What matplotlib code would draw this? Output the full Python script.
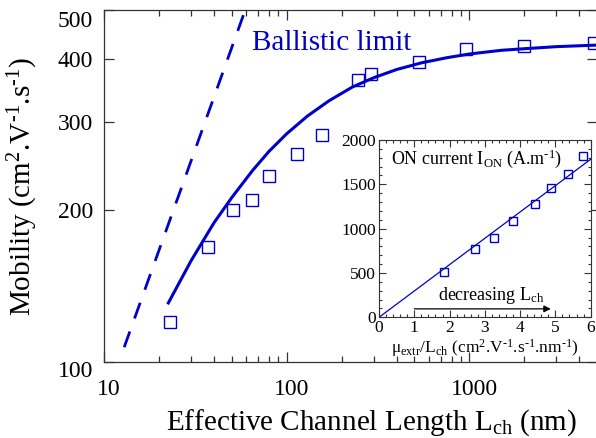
import matplotlib
matplotlib.use("Agg")
import matplotlib.pyplot as plt
import matplotlib.transforms as mtransforms
from matplotlib.ticker import FixedLocator, MultipleLocator, NullLocator, NullFormatter

plt.rcParams['font.family'] = ['Liberation Serif', 'DejaVu Serif']
plt.rcParams['mathtext.fontset'] = 'custom'
plt.rcParams['mathtext.rm'] = 'Liberation Serif'
plt.rcParams['mathtext.it'] = 'Liberation Serif:italic'

BLUE = '#0000cc'
HY = '\u2010'   # short hyphen for the exponents, like the original

# main panel: measured mobility vs channel length (squares)
L_meas = [23, 37, 51, 65, 80, 114, 156, 245, 289, 527, 964, 1994, 4800]
mu_meas = [120, 169, 200, 210, 234, 259, 282, 363, 373, 394, 418, 425, 431]

# model curve
L_model = [22.5, 30, 40, 50, 65, 80, 100, 130, 170, 230, 300, 400, 550,
           750, 1000, 1500, 2000, 3000, 5000]
mu_model = [131, 159, 189, 212, 240, 262, 284, 308, 330, 352, 367, 381, 393,
            402, 409, 416, 419, 423, 426]

# ballistic limit (straight line on log-log)
L_ball = [12.9, 59.3]
mu_ball = [107, 500]

# inset: ON current vs mu_extr / L_ch
x_ins = [1.85, 2.72, 3.26, 3.79, 4.41, 4.87, 5.36, 5.79]
ion_ins = [514, 767, 894, 1086, 1278, 1462, 1613, 1823]
fit_x = [0, 6]
fit_y = [0, 1782]

fig = plt.figure(figsize=(5.96, 4.38), dpi=100)

##############################################
# main axes
ax = fig.add_axes([0.1745, 0.1735, 0.8272, 0.8035])
ax.set_xscale('log')
ax.set_yscale('log')

ax.plot(L_ball, mu_ball, color=BLUE, lw=2, linestyle=(0, (6, 5)))
ax.plot(L_model, mu_model, color=BLUE, lw=2.2)
ax.plot(L_meas, mu_meas, 's', mfc='none', mec=BLUE, ms=8, mew=1)

ax.set_xlim(10, 5000)
ax.set_ylim(100, 500)

ax.yaxis.set_major_locator(FixedLocator([100, 200, 300, 400, 500]))
ax.yaxis.set_minor_locator(NullLocator())
ax.set_yticklabels(['100', '200', '300', '400', '500'])
ax.xaxis.set_major_locator(FixedLocator([10, 100, 1000]))
ax.set_xticklabels(['10', '100', '1000'])
ax.xaxis.set_minor_formatter(NullFormatter())

ax.tick_params(which='both', direction='in', top=True, right=True,
               labelsize=17, color='#333333')
ax.tick_params(which='major', length=7, width=0.9)
ax.tick_params(which='minor', length=4, width=0.9)
ax.tick_params(axis='x', pad=12)
ax.tick_params(axis='y', pad=8)
for sp in ax.spines.values():
    sp.set_linewidth(0.9)
    sp.set_color('#333333')

# x labels sit a bit right of their ticks, end y labels sit a bit low
for lab in ax.get_xticklabels():
    lab.set_transform(lab.get_transform() +
                      mtransforms.ScaledTranslation(5 / 100, 0, fig.dpi_scale_trans))
ylabs = ax.get_yticklabels()
ylabs[0].set_transform(ylabs[0].get_transform() +
                       mtransforms.ScaledTranslation(0, -7 / 100, fig.dpi_scale_trans))
ylabs[-1].set_transform(ylabs[-1].get_transform() +
                        mtransforms.ScaledTranslation(0, -9 / 100, fig.dpi_scale_trans))

ax.text(64.7, 416, 'Ballistic limit', color=BLUE, fontsize=21, va='baseline')

ax.set_xlabel('Effective Channel Length L$_{\\rm ch}$ (nm)', fontsize=21)
ax.xaxis.set_label_coords(0.5416, -0.13)
ax.set_ylabel('Mobility (cm$^{2}$.V$^{\\rm ' + HY + '1}$.s$^{\\rm ' + HY + '1}$)',
              fontsize=21)
ax.yaxis.set_label_coords(-0.13, 0.5)

##############################################
# inset
axin = fig.add_axes([0.636, 0.2756, 0.355, 0.4048])
axin.plot(fit_x, fit_y, color=BLUE, lw=0.9)
axin.plot(x_ins, ion_ins, 's', mfc='none', mec=BLUE, ms=6, mew=1)
axin.set_xlim(0, 6)
axin.set_ylim(0, 2000)
axin.xaxis.set_major_locator(MultipleLocator(1))
axin.xaxis.set_minor_locator(MultipleLocator(0.2))
axin.yaxis.set_major_locator(MultipleLocator(500))
axin.yaxis.set_minor_locator(MultipleLocator(100))
axin.tick_params(which='both', direction='in', top=True, right=True,
                 labelsize=12.5, pad=2, color='#333333')
axin.tick_params(which='major', length=5, width=0.8)
axin.tick_params(which='minor', length=2.5, width=0.8)
for sp in axin.spines.values():
    sp.set_linewidth(0.8)
    sp.set_color('#333333')

axin.text(0.055, 0.955, 'ON current I$_{\\rm ON}$ (A.m$^{\\rm ' + HY + '1}$)',
          fontsize=13, transform=axin.transAxes, va='top', ha='left')
axin.annotate('', xy=(4.95, 95), xytext=(0.92, 95),
              arrowprops=dict(arrowstyle='-|>', color='black', lw=0.9,
                              mutation_scale=10))
axin.text(1.67, 190, 'decreasing L$_{\\rm ch}$', fontsize=13, va='baseline')
axin.set_xlabel('μ$_{\\rm extr}$/L$_{\\rm ch}$ (cm$^{2}$.V$^{\\rm ' + HY + '1}$.s$^{\\rm '
                + HY + '1}$.nm$^{\\rm ' + HY + '1}$)', fontsize=12.5, labelpad=1)

fig.savefig('out.png', dpi=100)
